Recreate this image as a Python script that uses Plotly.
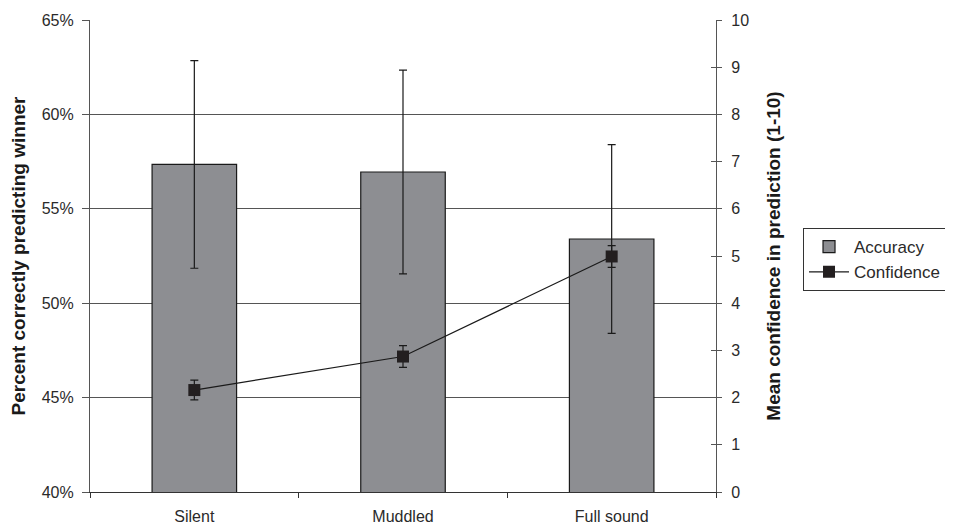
import plotly.graph_objects as go

categories = ["Silent", "Muddled", "Full sound"]
accuracy = [57.35, 56.95, 53.4]
accuracy_err = [5.5, 5.4, 5.0]
confidence = [2.16, 2.87, 4.99]
confidence_err = [0.21, 0.23, 0.23]

FONT = "Liberation Sans, Arial, sans-serif"

fig = go.Figure()
fig.add_trace(go.Bar(
    x=categories, y=accuracy, name="Accuracy",
    marker=dict(color="#8d8e92", line=dict(color="#1a1a1a", width=1.2)),
    width=0.405,
    error_y=dict(type="data", array=accuracy_err, color="#1a1a1a", thickness=1.2, width=4),
    yaxis="y", hoverinfo="skip",
))
fig.add_trace(go.Scatter(
    x=categories, y=confidence, name="Confidence", mode="lines+markers",
    line=dict(color="#1a1a1a", width=1.2),
    marker=dict(symbol="square", size=12, color="#231f20"),
    error_y=dict(type="data", array=confidence_err, color="#1a1a1a", thickness=1.2, width=4),
    yaxis="y2",
))
# invisible trace to host the inside-tick overlay of the right axis
fig.add_trace(go.Scatter(x=categories, y=[None, None, None], yaxis="y3",
                         showlegend=False, hoverinfo="skip"))

fig.update_layout(
    width=953, height=528,
    margin=dict(l=82, r=245, t=12, b=44),
    paper_bgcolor="white", plot_bgcolor="white",
    font=dict(family=FONT, size=16, color="#2a2a2a"),
    bargap=0.6,
    xaxis=dict(
        showline=True, linecolor="#333", linewidth=1.2, mirror=False,
        ticks="outside", tickson="boundaries", ticklen=5, tickcolor="#333",
        tickfont=dict(size=16), showgrid=False, automargin=False,
        ticklabelstandoff=10,
    ),
    yaxis=dict(
        range=[40, 65], dtick=5, ticksuffix="%",
        showline=True, linecolor="#555", linewidth=1.2,
        ticks="outside", ticklen=7, tickcolor="#555",
        showgrid=True, gridcolor="#555", gridwidth=1,
        zeroline=False, automargin=False, tickfont=dict(size=16),
        ticklabelstandoff=5,
        title=dict(text="<b>Percent correctly predicting winner</b>", font=dict(size=19, color="#1a1a1a"), standoff=12),
    ),
    yaxis2=dict(
        range=[0, 10], dtick=1, overlaying="y", side="right", anchor="x",
        showline=True, linecolor="#555", linewidth=1.2,
        ticks="outside", ticklen=5, tickcolor="#555",
        showgrid=False, zeroline=False, automargin=False, tickfont=dict(size=16),
        ticklabelstandoff=6,
        title=dict(text="<b>Mean confidence in prediction (1-10)</b>", font=dict(size=19, color="#1a1a1a"), standoff=18),
    ),
    yaxis3=dict(
        range=[0, 10], dtick=1, overlaying="y", side="right", anchor="x",
        ticks="inside", ticklen=5, tickcolor="#555", automargin=False,
        showticklabels=False, showgrid=False, zeroline=False, showline=False,
    ),
    legend=dict(
        x=1.139, y=0.559, xanchor="left", yanchor="top",
        bordercolor="#333", borderwidth=1, bgcolor="white",
        font=dict(size=17), tracegroupgap=0, itemwidth=40,
    ),
    showlegend=True,
)

fig.write_html("out.html")
